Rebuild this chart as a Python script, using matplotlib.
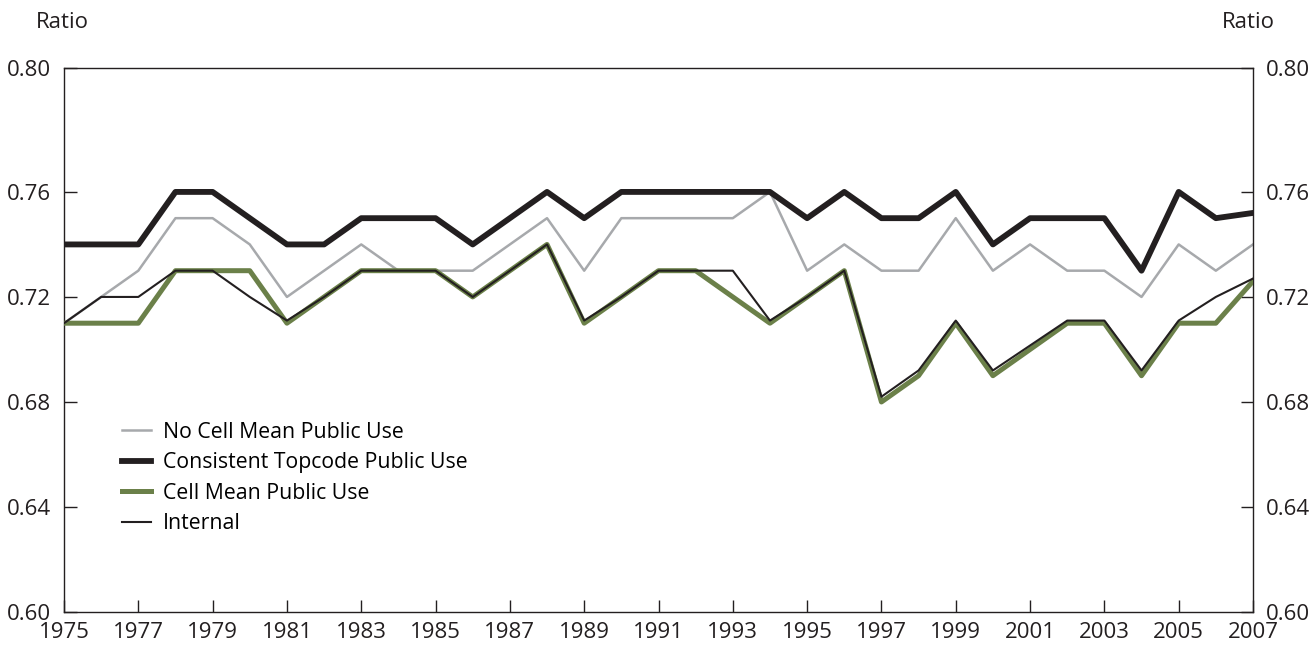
import matplotlib.pyplot as plt

plt.rcParams['font.family'] = ['Open Sans', 'DejaVu Sans']

years = list(range(1975, 2008))

no_cell_mean = [0.71, 0.72, 0.73, 0.75, 0.75, 0.74, 0.72, 0.73, 0.74, 0.73, 0.73,
                0.73, 0.74, 0.75, 0.73, 0.75, 0.75, 0.75, 0.75, 0.76, 0.73, 0.74,
                0.73, 0.73, 0.75, 0.73, 0.74, 0.73, 0.73, 0.72, 0.74, 0.73, 0.74]
consistent = [0.74, 0.74, 0.74, 0.76, 0.76, 0.75, 0.74, 0.74, 0.75, 0.75, 0.75,
              0.74, 0.75, 0.76, 0.75, 0.76, 0.76, 0.76, 0.76, 0.76, 0.75, 0.76,
              0.75, 0.75, 0.76, 0.74, 0.75, 0.75, 0.75, 0.73, 0.76, 0.75, 0.752]
cell_mean = [0.71, 0.71, 0.71, 0.73, 0.73, 0.73, 0.71, 0.72, 0.73, 0.73, 0.73,
             0.72, 0.73, 0.74, 0.71, 0.72, 0.73, 0.73, 0.72, 0.71, 0.72, 0.73,
             0.68, 0.69, 0.71, 0.69, 0.70, 0.71, 0.71, 0.69, 0.71, 0.71, 0.726]
internal = [0.71, 0.72, 0.72, 0.73, 0.73, 0.72, 0.711, 0.72, 0.73, 0.73, 0.73,
            0.72, 0.73, 0.74, 0.711, 0.72, 0.73, 0.73, 0.73, 0.711, 0.72, 0.73,
            0.682, 0.692, 0.711, 0.692, 0.7015, 0.711, 0.711, 0.692, 0.711, 0.72, 0.727]

ytick_vals = [0.60, 0.64, 0.68, 0.72, 0.76, 0.8072]
ytick_labels = ['0.60', '0.64', '0.68', '0.72', '0.76', '0.80']
xtick_vals = list(range(1975, 2008, 2))

GRAY = '#a7a9ac'
BLACK = '#231f20'
GREEN = '#6b8049'

fig = plt.figure(figsize=(13.15, 6.45), dpi=100)
ax = fig.add_axes([64 / 1315, 1 - 612 / 645, (1253 - 64) / 1315, (612 - 68) / 645])

ax.plot(years, no_cell_mean, color=GRAY, lw=1.8, label='No Cell Mean Public Use', zorder=2)
ax.plot(years, cell_mean, color=GREEN, lw=3.6, label='Cell Mean Public Use', zorder=3)
ax.plot(years, internal, color=BLACK, lw=1.5, label='Internal', zorder=4)
ax.plot(years, consistent, color=BLACK, lw=4.2, label='Consistent Topcode Public Use', zorder=5)

ax.set_xlim(1975, 2007)
ax.set_ylim(0.60, 0.8072)
ax.set_xticks(xtick_vals)
ax.set_xticklabels([str(y) for y in xtick_vals])
ax.set_yticks(ytick_vals)
ax.set_yticklabels(ytick_labels)

ax.tick_params(axis='both', direction='in', length=9, width=1, color=BLACK,
               labelsize=16, labelcolor=BLACK)
ax.tick_params(axis='y', left=True, right=True, labelleft=True, labelright=True, pad=9)
ax.tick_params(axis='x', pad=7)
for s in ax.spines.values():
    s.set_color(BLACK)
    s.set_linewidth(1)

handles, labels = ax.get_legend_handles_labels()
order = [0, 3, 1, 2]
ax.legend([handles[i] for i in order], [labels[i] for i in order],
          loc='upper left', bbox_to_anchor=(0.049, 0.35), frameon=False,
          fontsize=15.3, handlelength=1.35, handletextpad=0.55, labelspacing=0.45,
          borderpad=0, borderaxespad=0)

fig.text(36 / 1315, 1 - 23 / 645, 'Ratio', fontsize=16, color=BLACK, va='center', ha='left')
fig.text(1275 / 1315, 1 - 23 / 645, 'Ratio', fontsize=16, color=BLACK, va='center', ha='right')

fig.savefig('out.png', dpi=100)
